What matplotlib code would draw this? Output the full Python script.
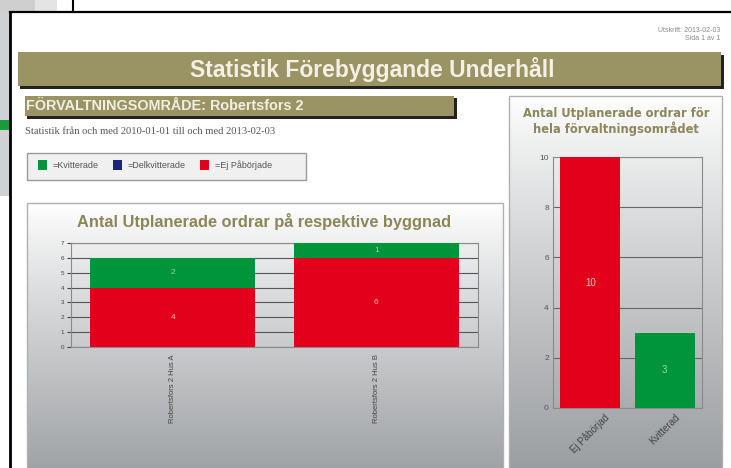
import numpy as np
import matplotlib

matplotlib.use("Agg")
import matplotlib.pyplot as plt
from matplotlib.patches import Rectangle

# data
buildings = ["Robertsfors 2 Hus A", "Robertsfors 2 Hus B"]
ej_paborjad = [4, 6]
delkvitterade = [0, 0]
kvitterade = [2, 1]
status_labels = ["Ej Påbörjad", "Kvitterad"]
status_totals = [10, 3]
legend_labels = ["=Kvitterade", "=Delkvitterade", "=Ej Påbörjade"]

RED = "#e2001a"
GREEN = "#00953b"
BLUE = "#1c2378"
OLIVE = "#9a9364"
TITLE_OLIVE = "#8c8659"
W, H = 731, 468

plt.rcParams["font.family"] = ["Liberation Sans", "DejaVu Sans"]
fig = plt.figure(figsize=(W / 100, H / 100), dpi=100)


def box(x0, y0, x1, y1):
    return [x0 / W, 1 - y1 / H, (x1 - x0) / W, (y1 - y0) / H]


def rect(x0, y0, x1, y1, **kw):
    fig.patches.append(Rectangle((x0 / W, 1 - y1 / H), (x1 - x0) / W, (y1 - y0) / H,
                                 transform=fig.transFigure, figure=fig, **kw))


def ftext(x, y, s, **kw):
    fig.text(x / W, 1 - y / H, s, **kw)


def gradient_panel(x0, y0, x1, y1, bottom_gray):
    ax = fig.add_axes(box(x0, y0, x1, y1), zorder=0)
    g = np.linspace(0, 1, 200)[:, None]
    top = np.array([1.0, 1.0, 1.0])
    bot = np.array(bottom_gray) / 255.0
    img = top + (bot - top) * (g ** 0.9)[:, :, None]
    img = np.repeat(img, 2, axis=1)
    ax.imshow(img, aspect="auto", extent=[0, 1, 0, 1])
    ax.set_axis_off()
    rect(x0, y0, x1, y1, fill=False, edgecolor="#b0b0b0", lw=1.0, zorder=5)


# background window behind the page
rect(0, 0, 10, 196, facecolor="#cfd1d2", edgecolor="none")
rect(0, 120, 10, 130, facecolor="#1a9a3a", edgecolor="none")
rect(0, 0, 35, 11, facecolor="#cfcfcf", edgecolor="none")
rect(35, 0, 57, 11, facecolor="#e4e4e4", edgecolor="none")
fig.add_artist(plt.Line2D([73 / W, 73 / W], [1, 1 - 11 / H], color="black", lw=1.5))
fig.add_artist(plt.Line2D([10 / W, 1], [1 - 11.5 / H, 1 - 11.5 / H], color="black", lw=1.6))
fig.add_artist(plt.Line2D([10 / W, 10 / W], [0, 1 - 11.5 / H], color="black", lw=2.0))

# header text top right
ftext(720, 30, "Utskrift: 2013-02-03", fontsize=5, color="#888888", ha="right", va="center")
ftext(720, 39, "Sida 1 av 1", fontsize=5, color="#888888", ha="right", va="center")

# title banner
rect(20, 55, 724, 89, facecolor="#222222", edgecolor="none")
rect(18, 52, 721, 86, facecolor=OLIVE, edgecolor="none")
ftext(372, 69, "Statistik Förebyggande Underhåll", fontsize=16.5, fontweight="bold",
      color="#f4f1e4", ha="center", va="center")

# section header
rect(27, 98, 457, 119, facecolor="#222222", edgecolor="none")
rect(25, 96, 454, 116, facecolor=OLIVE, edgecolor="none")
ftext(26, 106, "FÖRVALTNINGSOMRÅDE: Robertsfors 2", fontsize=10.4, fontweight="bold",
      color="#f2efe2", ha="left", va="center")
ftext(25, 131, "Statistik från och med 2010-01-01 till och med 2013-02-03", fontsize=7.6,
      family="Liberation Serif", color="#555555", ha="left", va="center")

# legend box
rect(27, 153, 306, 180, facecolor="#f0f0f0", edgecolor="#9a9a9a", lw=1.0)
for xs, lab, col in zip([38, 113, 200], legend_labels, [GREEN, BLUE, RED]):
    rect(xs, 160, xs + 9, 170, facecolor=col, edgecolor="none")
    ftext(xs + 15, 165.5, lab, fontsize=6.5, color="#555555", ha="left", va="center")

# left chart panel
gradient_panel(27, 203, 503, 470, (160, 163, 166))
ftext(264, 222, "Antal Utplanerade ordrar på respektive byggnad", fontsize=11.8,
      fontweight="bold", color=TITLE_OLIVE, ha="center", va="center")

ax1 = fig.add_axes(box(71, 243, 478, 347), zorder=2)
ax1.set_facecolor("none")
x = np.arange(len(buildings))
ax1.bar(x, ej_paborjad, width=0.81, color=RED, zorder=3)
ax1.bar(x, delkvitterade, width=0.81, bottom=ej_paborjad, color=BLUE, zorder=3)
bottoms = np.array(ej_paborjad) + np.array(delkvitterade)
ax1.bar(x, kvitterade, width=0.81, bottom=bottoms, color=GREEN, zorder=3)
for i in range(len(buildings)):
    ax1.text(x[i], ej_paborjad[i] / 2, str(ej_paborjad[i]), ha="center", va="center",
             fontsize=6, color="#e8c0c0", zorder=4)
    ax1.text(x[i], bottoms[i] + kvitterade[i] / 2, str(kvitterade[i]), ha="center",
             va="center", fontsize=6, color="#a8d8b0", zorder=4)
ax1.set_xlim(-0.5, 1.5)
ax1.set_ylim(0, 7)
ax1.set_yticks(range(0, 8))
ax1.set_xticks(x)
ax1.set_xticklabels(buildings, rotation=90, fontsize=5.5, color="#444444")
ax1.tick_params(axis="y", labelsize=4.5, colors="#444444", length=3, pad=2)
ax1.tick_params(axis="x", length=0, pad=5)
ax1.grid(axis="y", color="#555555", lw=0.8, zorder=1)
ax1.set_axisbelow(True)
for s in ax1.spines.values():
    s.set_color("#8a8a8a")
    s.set_linewidth(0.8)

# right chart panel
gradient_panel(509, 96, 722, 470, (155, 158, 161))
ftext(616, 113, "Antal Utplanerade ordrar för", fontsize=8.3, fontweight="bold",
      family="DejaVu Sans", color=TITLE_OLIVE, ha="center", va="center")
ftext(616, 129, "hela förvaltningsområdet", fontsize=8.3, fontweight="bold",
      family="DejaVu Sans", color=TITLE_OLIVE, ha="center", va="center")

ax2 = fig.add_axes(box(553, 157, 702, 408), zorder=2)
ax2.set_facecolor("none")
x2 = np.arange(len(status_labels))
ax2.bar(x2, status_totals, width=0.81, color=[RED, GREEN], zorder=3)
for i, v in enumerate(status_totals):
    ax2.text(x2[i], v / 2, str(v), ha="center", va="center", fontsize=7,
             color="#e8c8c8" if i == 0 else "#a8d8b0", zorder=4)
ax2.set_xlim(-0.5, 1.5)
ax2.set_ylim(0, 10)
ax2.set_yticks(range(0, 11, 2))
ax2.set_xticks(x2)
ax2.set_xticklabels(status_labels, rotation=45, ha="center", fontsize=7, color="#444444")
ax2.tick_params(axis="y", labelsize=6, colors="#555555", length=0, pad=3)
ax2.tick_params(axis="x", length=0, pad=3)
ax2.grid(axis="y", color="#666666", lw=0.8, zorder=1)
ax2.set_axisbelow(True)
for s in ax2.spines.values():
    s.set_color("#8a8a8a")
    s.set_linewidth(0.8)

fig.savefig("out.png", dpi=100)
